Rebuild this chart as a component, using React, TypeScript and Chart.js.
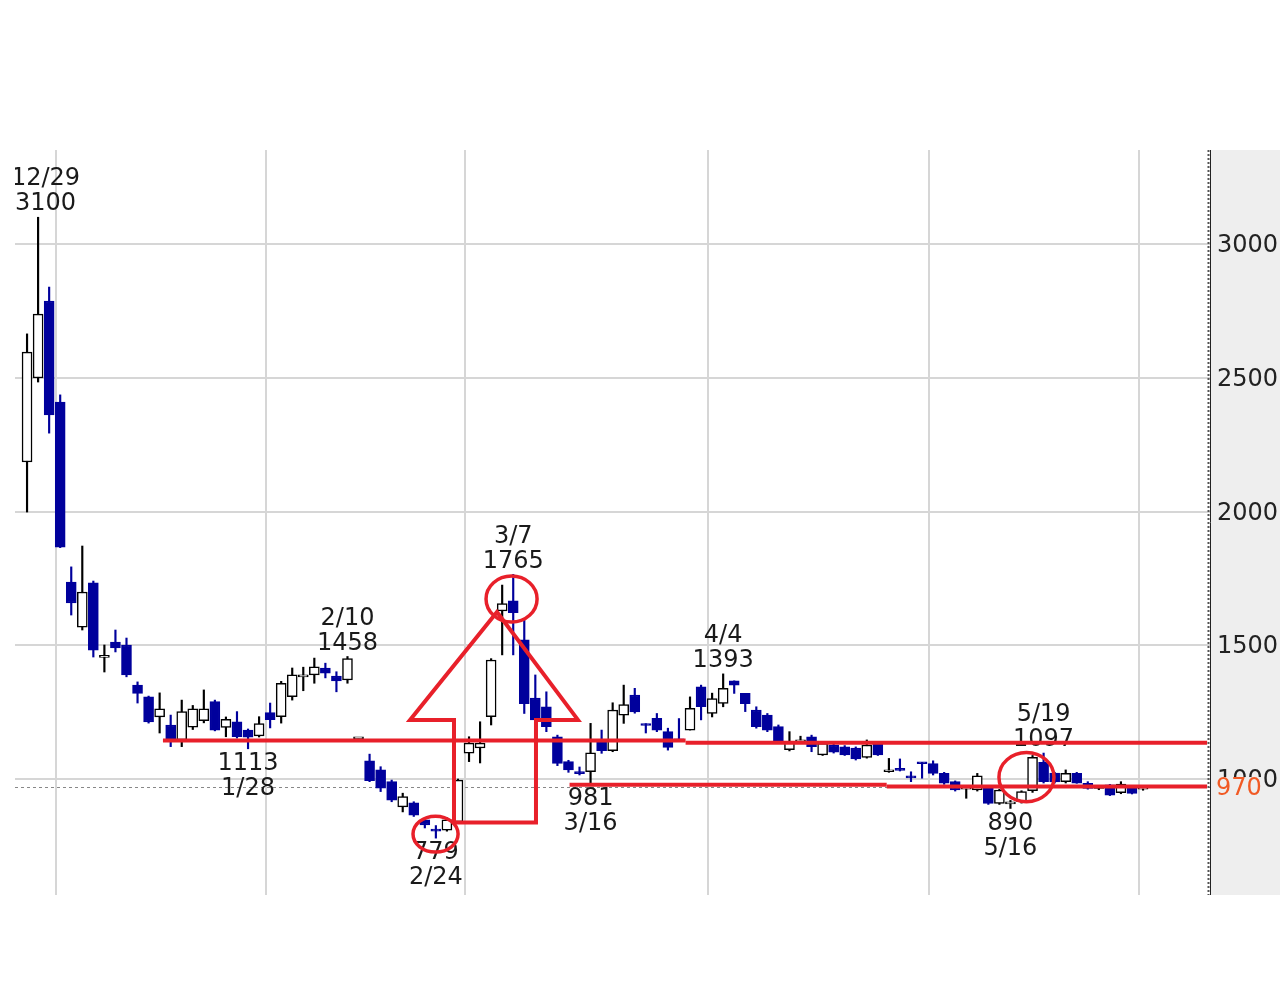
import React, { useEffect, useRef } from 'react';
import { Chart, registerables } from 'chart.js';

Chart.register(...registerables);

// ---- data (daily candles) ----
const dates = [
  '12/28', '12/29', '12/30',
  '1/4', '1/5', '1/6', '1/7', '1/11', '1/12', '1/13', '1/14', '1/17', '1/18', '1/19', '1/20', '1/21', '1/24', '1/25', '1/26', '1/27', '1/28', '1/31',
  '2/1', '2/2', '2/3', '2/4', '2/7', '2/8', '2/9', '2/10', '2/14', '2/15', '2/16', '2/17', '2/18', '2/21', '2/22', '2/24', '2/25', '2/28',
  '3/1', '3/2', '3/3', '3/4', '3/7', '3/8', '3/9', '3/10', '3/11', '3/14', '3/15', '3/16', '3/17', '3/18', '3/22', '3/23', '3/24', '3/25', '3/28', '3/29', '3/30', '3/31',
  '4/1', '4/4', '4/5', '4/6', '4/7', '4/8', '4/11', '4/12', '4/13', '4/14', '4/15', '4/18', '4/19', '4/20', '4/21', '4/22', '4/25', '4/26', '4/27', '4/28',
  '5/2', '5/6', '5/9', '5/10', '5/11', '5/12', '5/13', '5/16', '5/17', '5/18', '5/19', '5/20', '5/23', '5/24', '5/25', '5/26', '5/27', '5/30', '5/31',
  '6/1',
];
const opens = [
  2185, 2499, 2787,
  2409, 1736, 1568, 1733, 1455, 1512, 1501, 1351, 1307, 1232, 1202, 1146, 1194, 1218, 1289, 1193, 1214, 1183, 1161,
  1248, 1233, 1308, 1382, 1389, 1415, 1385, 1370, 1150, 1068, 1034, 990, 896, 911, 847, 812, 809, 840,
  1097, 1116, 1233, 1628, 1666, 1520, 1303, 1270, 1158, 1065, 1026, 1027, 1139, 1106, 1239, 1314, 1205, 1227, 1177, 1150, 1183, 1345,
  1245, 1283, 1367, 1320, 1258, 1239, 1196, 1110, 1139, 1158, 1090, 1127, 1120, 1116, 1081, 1133, 1027, 1036, 1008, 1062,
  1058, 1021, 990, 962, 959, 965, 909, 907, 915, 956, 1062, 1022, 990, 1021, 984, 965, 978, 949, 971,
  962,
];
const highs = [
  2664, 3100, 2839,
  2436, 1793, 1871, 1740, 1501, 1557, 1527, 1363, 1310, 1322, 1239, 1295, 1275, 1333, 1295, 1232, 1252, 1187, 1233,
  1284, 1365, 1415, 1418, 1452, 1433, 1401, 1458, 1150, 1093, 1046, 996, 947, 915, 854, 826, 855, 1000,
  1158, 1214, 1450, 1725, 1765, 1594, 1389, 1326, 1164, 1070, 1045, 1208, 1183, 1285, 1351, 1339, 1207, 1245, 1190, 1226, 1307, 1351,
  1321, 1393, 1367, 1320, 1270, 1245, 1202, 1177, 1160, 1164, 1140, 1130, 1125, 1120, 1146, 1136, 1077, 1075, 1027, 1062,
  1068, 1025, 993, 970, 1021, 968, 962, 920, 956, 1088, 1097, 1025, 1034, 1025, 990, 975, 980, 990, 975,
  975,
];
const lows = [
  1998, 2484, 2293,
  1865, 1613, 1557, 1456, 1400, 1475, 1382, 1284, 1209, 1172, 1121, 1121, 1185, 1210, 1180, 1158, 1153, 1113, 1157,
  1191, 1209, 1295, 1330, 1358, 1378, 1326, 1358, 1150, 990, 953, 915, 877, 860, 817, 779, 805, 835,
  1065, 1060, 1202, 1464, 1464, 1245, 1215, 1177, 1050, 1025, 1015, 981, 1096, 1102, 1208, 1246, 1172, 1177, 1108, 1140, 1183, 1221,
  1232, 1270, 1320, 1252, 1190, 1177, 1135, 1105, 1135, 1102, 1088, 1097, 1088, 1071, 1078, 1088, 1025, 1030, 990, 1003,
  1015, 980, 955, 928, 955, 905, 905, 890, 910, 950, 985, 985, 985, 984, 962, 960, 938, 945, 944,
  958,
];
const closes = [
  2596, 2738, 2361,
  1867, 1658, 1699, 1482, 1462, 1490, 1389, 1320, 1213, 1262, 1146, 1252, 1262, 1262, 1183, 1223, 1158, 1156, 1207,
  1222, 1358, 1389, 1389, 1419, 1396, 1367, 1450, 1150, 994, 966, 921, 934, 865, 828, 805, 847, 996,
  1134, 1134, 1445, 1656, 1622, 1282, 1221, 1196, 1058, 1034, 1020, 1098, 1106, 1258, 1278, 1251, 1200, 1183, 1118, 1143, 1264, 1270,
  1301, 1339, 1351, 1282, 1196, 1183, 1139, 1139, 1143, 1121, 1133, 1100, 1090, 1075, 1127, 1090, 1029, 1032, 1004, 1057,
  1021, 984, 959, 966, 1012, 909, 959, 915, 953, 1081, 990, 989, 1021, 984, 965, 970, 940, 981, 946,
  970,
];
const yTicks = [1000, 1500, 2000, 2500, 3000];
const highMarks = ['12/29', '2/10', '3/7', '4/4', '5/19'];
const lowMarks = ['1/28', '2/24', '3/16', '5/16'];

// ---- hand-drawn overlay marks (in data coordinates: candle index, price) ----
const redSegments = [
  { x1: 12.3, x2: 59.6, v: 1144 },
  { x1: 59.6, x2: 106.8, v: 1136 },
  { x1: 49.1, x2: 77.8, v: 979 },
  { x1: 77.8, x2: 106.8, v: 972 },
];
const redCircles = [
  { x: 36.97, v: 794, rx: 2.04, rv: 67 },
  { x: 43.85, v: 1673, rx: 2.31, rv: 86 },
  { x: 90.45, v: 1007, rx: 2.49, rv: 92 },
];
const arrowPoints = [
  [42.53, 1624], [34.66, 1221], [38.64, 1221], [38.64, 837],
  [46.06, 837], [46.06, 1221], [49.86, 1221],
];

const DOWN = '#00009c';
const RED = '#e8202a';
const FONT = '24px "DejaVu Sans", Verdana, sans-serif';

const monthStarts: number[] = [];
dates.forEach((d, i) => {
  if (i > 0 && d.split('/')[0] !== dates[i - 1].split('/')[0]) monthStarts.push(i - 0.36);
});

const isUp = (i: number) => closes[i] >= opens[i];

const overlay = {
  id: 'overlay',
  beforeDraw(chart: any) {
    const { ctx, chartArea: a } = chart;
    ctx.save();
    ctx.fillStyle = '#ffffff';
    ctx.fillRect(0, 0, chart.width, chart.height);
    ctx.fillStyle = '#eeeeee';
    ctx.fillRect(a.right + 1, a.top, chart.width - a.right - 1, a.bottom - a.top);
    ctx.restore();
  },
  beforeDatasetsDraw(chart: any) {
    const { ctx, chartArea: a, scales } = chart;
    const y = Math.round(scales.y.getPixelForValue(closes[closes.length - 1])) + 0.5;
    ctx.save();
    ctx.strokeStyle = '#888888';
    ctx.lineWidth = 1;
    ctx.setLineDash([3, 3]);
    ctx.beginPath();
    ctx.moveTo(a.left, y);
    ctx.lineTo(a.right, y);
    ctx.stroke();
    ctx.restore();
  },
  afterDatasetsDraw(chart: any) {
    const { ctx, chartArea: a, scales } = chart;
    const xs = scales.x;
    const ys = scales.y;
    ctx.save();
    ctx.beginPath();
    ctx.rect(a.left, a.top, a.right - a.left, a.bottom - a.top);
    ctx.clip();
    ctx.font = FONT;
    ctx.fillStyle = '#1a1a1a';
    ctx.textAlign = 'center';
    ctx.textBaseline = 'middle';
    const placeX = (i: number, txt: string) => {
      const half = ctx.measureText(txt).width / 2;
      return Math.max(xs.getPixelForValue(i), a.left + half);
    };
    highMarks.forEach((d) => {
      const i = dates.indexOf(d);
      const v = String(highs[i]);
      const x = placeX(i, v);
      const y = ys.getPixelForValue(highs[i]);
      ctx.fillText(d, x, y - 38);
      ctx.fillText(v, x, y - 13);
    });
    lowMarks.forEach((d) => {
      const i = dates.indexOf(d);
      const v = String(lows[i]);
      const x = placeX(i, v);
      const y = ys.getPixelForValue(lows[i]);
      ctx.fillText(v, x, y + 15);
      ctx.fillText(d, x, y + 40);
    });

    ctx.strokeStyle = RED;
    ctx.lineWidth = 4;
    redSegments.forEach((s) => {
      const y = ys.getPixelForValue(s.v);
      ctx.beginPath();
      ctx.moveTo(xs.getPixelForValue(s.x1), y);
      ctx.lineTo(xs.getPixelForValue(s.x2), y);
      ctx.stroke();
    });
    ctx.lineWidth = 3.5;
    redCircles.forEach((c) => {
      const cx = xs.getPixelForValue(c.x);
      const cy = ys.getPixelForValue(c.v);
      const rx = xs.getPixelForValue(c.x + c.rx) - cx;
      const ry = cy - ys.getPixelForValue(c.v + c.rv);
      ctx.beginPath();
      ctx.ellipse(cx, cy, rx, ry, 0, 0, Math.PI * 2);
      ctx.stroke();
    });
    ctx.lineWidth = 4;
    ctx.lineJoin = 'miter';
    ctx.beginPath();
    arrowPoints.forEach((p, k) => {
      const x = xs.getPixelForValue(p[0]);
      const y = ys.getPixelForValue(p[1]);
      if (k === 0) ctx.moveTo(x, y);
      else ctx.lineTo(x, y);
    });
    ctx.closePath();
    ctx.stroke();
    ctx.restore();
  },
  afterDraw(chart: any) {
    const { ctx, chartArea: a, scales } = chart;
    ctx.save();
    // right border of plot
    ctx.strokeStyle = '#555555';
    ctx.lineWidth = 2;
    ctx.setLineDash([2, 2]);
    ctx.beginPath();
    ctx.moveTo(a.right - 1.5, a.top);
    ctx.lineTo(a.right - 1.5, a.bottom);
    ctx.stroke();
    ctx.setLineDash([]);
    ctx.strokeStyle = '#222222';
    ctx.lineWidth = 1;
    ctx.beginPath();
    ctx.moveTo(a.right + 0.5, a.top);
    ctx.lineTo(a.right + 0.5, a.bottom);
    ctx.stroke();
    // last price tag
    const last = closes[closes.length - 1];
    const y = scales.y.getPixelForValue(last);
    ctx.fillStyle = '#eeeeee';
    ctx.fillRect(a.right + 3, y - 10, 50, 22);
    ctx.font = FONT;
    ctx.fillStyle = '#f15a24';
    ctx.textAlign = 'left';
    ctx.textBaseline = 'middle';
    ctx.fillText(String(last), a.right + 6, y + 2);
    ctx.restore();
  },
};

export default function App() {
  const ref = useRef<HTMLCanvasElement>(null);
  useEffect(() => {
    document.body.style.margin = '0';
    const canvas = ref.current!;
    const chart = new Chart(canvas, {
      type: 'bar',
      data: {
        datasets: [
          {
            label: 'body',
            data: dates.map((_, i) => ({ x: i, y: [opens[i], closes[i]] })) as any,
            backgroundColor: (c: any) => (isUp(c.dataIndex) ? '#ffffff' : DOWN),
            borderColor: (c: any) => (isUp(c.dataIndex) ? '#000000' : DOWN),
            borderWidth: 1.5,
            borderSkipped: false,
            barThickness: 10,
            minBarLength: 2,
            grouped: false,
          } as any,
          {
            label: 'wick',
            data: dates.map((_, i) => ({ x: i, y: [lows[i], highs[i]] })) as any,
            backgroundColor: (c: any) => (isUp(c.dataIndex) ? '#000000' : DOWN),
            borderWidth: 0,
            barThickness: 1.5,
            grouped: false,
          } as any,
        ],
      },
      options: {
        animation: false,
        responsive: false,
        maintainAspectRatio: false,
        events: [],
        layout: { padding: { left: 15, top: 150, right: 0, bottom: 112 } },
        plugins: { legend: { display: false }, tooltip: { enabled: false } },
        scales: {
          x: {
            type: 'linear',
            min: -1.09,
            max: 107.06,
            offset: false,
            afterBuildTicks: (s: any) => {
              s.ticks = monthStarts.map((v) => ({ value: v }));
            },
            afterFit: (s: any) => {
              s.height = 0;
            },
            ticks: { display: false },
            grid: { color: '#d6d6d6', lineWidth: 2, drawTicks: false, offset: false },
            border: { display: false },
          },
          y: {
            type: 'linear',
            position: 'right',
            min: 566.4,
            max: 3351.4,
            afterBuildTicks: (s: any) => {
              s.ticks = yTicks.map((v) => ({ value: v }));
            },
            afterFit: (s: any) => {
              s.width = 70;
            },
            ticks: {
              padding: 7,
              labelOffset: 2,
              color: '#222222',
              font: { family: '"DejaVu Sans", Verdana, sans-serif', size: 24 },
              callback: (v: any) => String(v),
            },
            grid: { color: '#d6d6d6', lineWidth: 2, drawTicks: false },
            border: { display: false },
          },
        },
      },
      plugins: [overlay],
    });
    return () => chart.destroy();
  }, []);
  return (
    <div style={{ width: 1280, height: 1007, background: '#ffffff' }}>
      <canvas ref={ref} width={1280} height={1007} style={{ display: 'block' }} />
    </div>
  );
}
